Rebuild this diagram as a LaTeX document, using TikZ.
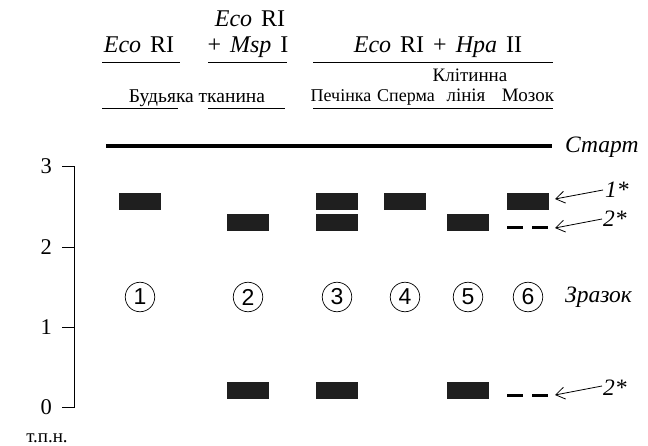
\documentclass[tikz,border=0pt]{standalone}
\usepackage{fontspec}
\setmainfont{Liberation Serif}
\newfontfamily\sansf{Liberation Sans}
\usetikzlibrary{arrows.meta}
\newcommand{\wsp}{\hspace{9pt}}
\begin{document}
\begin{tikzpicture}[x=1pt,y=-1pt,
  band/.style={fill=black!88,draw=none,minimum width=42pt,minimum height=17pt,inner sep=0pt},
  num/.style={circle,draw,line width=0.7pt,minimum size=29.5pt,inner sep=0pt,font=\sansf\fontsize{23}{23}\selectfont},
  hdr/.style={anchor=base,inner sep=0pt,font=\fontsize{24}{24}\selectfont},
  sub/.style={anchor=base,inner sep=0pt,font=\fontsize{19}{20}\selectfont},
  ax/.style={inner sep=0pt,font=\fontsize{22.5}{23}\selectfont},
  lab/.style={anchor=base west,inner sep=0pt,font=\itshape\fontsize{23.5}{24}\selectfont},
  rule/.style={line width=0.8pt},
  dashband/.style={line width=3pt,dash pattern=on 16pt off 9pt},
  pointer/.style={line width=0.8pt,-{Straight Barb[length=9pt,width=12pt]}}]
\useasboundingbox (0,0) rectangle (648,446);
% headers
\node[hdr] (h1) at (139,53) {\textit{Eco}\wsp RI};
\node[hdr] (h2a) at (250,27) {\textit{Eco}\wsp RI};
\node[hdr] (h2b) at (248,53) {+\wsp\textit{Msp}\wsp I};
\node[hdr] (h3) at (438,53) {\textit{Eco}\wsp RI\wsp+\wsp\textit{Hpa}\wsp II};
\draw[rule] (102,62) -- (180,62);
\draw[rule] (208,62) -- (287,62);
\draw[rule] (313,62) -- (553,62);
\node[sub,font=\fontsize{19.5}{20}\selectfont] (s1) at (197,103) {Будьяка тканина};
\node[sub,font=\fontsize{18}{20}\selectfont] (s3) at (341,102) {Печінка};
\node[sub,font=\fontsize{18}{20}\selectfont] (s4) at (406,102) {Сперма};
\node[sub] (s5a) at (470,82) {Клітинна};
\node[sub] (s5b) at (466,102) {лінія};
\node[sub] (s6) at (528,102) {Мозок};
\draw[rule] (102,108) -- (178,108);
\draw[rule] (208,108) -- (285,108);
\draw[rule] (313,108) -- (553,108);
% start line
\draw[line width=3.5pt] (106,146) -- (552,146);
\node[lab] (start) at (565,153) {Старт};
% axis
\draw[line width=0.8pt] (62,166) -- (74,166) -- (74,407) -- (62,407);
\draw[line width=0.8pt] (62,247) -- (74,247);
\draw[line width=0.8pt] (62,327) -- (74,327);
\node[ax,anchor=east] (a3) at (52,166) {3};
\node[ax,anchor=east] (a2) at (52,247) {2};
\node[ax,anchor=east] (a1) at (52,327) {1};
\node[ax,anchor=east] (a0) at (52,407) {0};
\node[anchor=base,inner sep=0pt,font=\fontsize{19}{19}\selectfont] (unit) at (47,442) {т.п.н.};
% bands
\node[band] (b1u) at (140,201.5) {};
\node[band] (b2m) at (248,222.5) {};
\node[band] (b2l) at (248,390) {};
\node[band] (b3u) at (337,201.5) {};
\node[band] (b3m) at (337,222.5) {};
\node[band] (b3l) at (337,390) {};
\node[band] (b4u) at (405,201.5) {};
\node[band] (b5m) at (468,222.5) {};
\node[band] (b5l) at (468,390) {};
\node[band] (b6u) at (528,201.5) {};
\coordinate (d6ma) at (507,228);
\coordinate (d6mb) at (549,228);
\coordinate (d6la) at (507,395);
\coordinate (d6lb) at (549,395);
\draw[dashband] (d6ma) -- (d6mb);
\draw[dashband] (d6la) -- (d6lb);
% sample numbers
\node[num] (n1) at (140,297) {1};
\node[num] (n2) at (248,297) {2};
\node[num] (n3) at (337,297) {3};
\node[num] (n4) at (405,297) {4};
\node[num] (n5) at (468,297) {5};
\node[num] (n6) at (528,297) {6};
\node[lab] (zr) at (565,303) {Зразок};
% pointers
\node[lab] (p1) at (605,198) {1*};
\node[lab] (p2) at (603,227) {2*};
\node[lab] (p3) at (603,395) {2*};
\coordinate (t1) at (555,199);
\coordinate (t2) at (555,228);
\coordinate (t3) at (555,395);
\draw[pointer] (603,190) -- (t1);
\draw[pointer] (602,219) -- (t2);
\draw[pointer] (602,386) -- (t3);
\end{tikzpicture}
\end{document}
